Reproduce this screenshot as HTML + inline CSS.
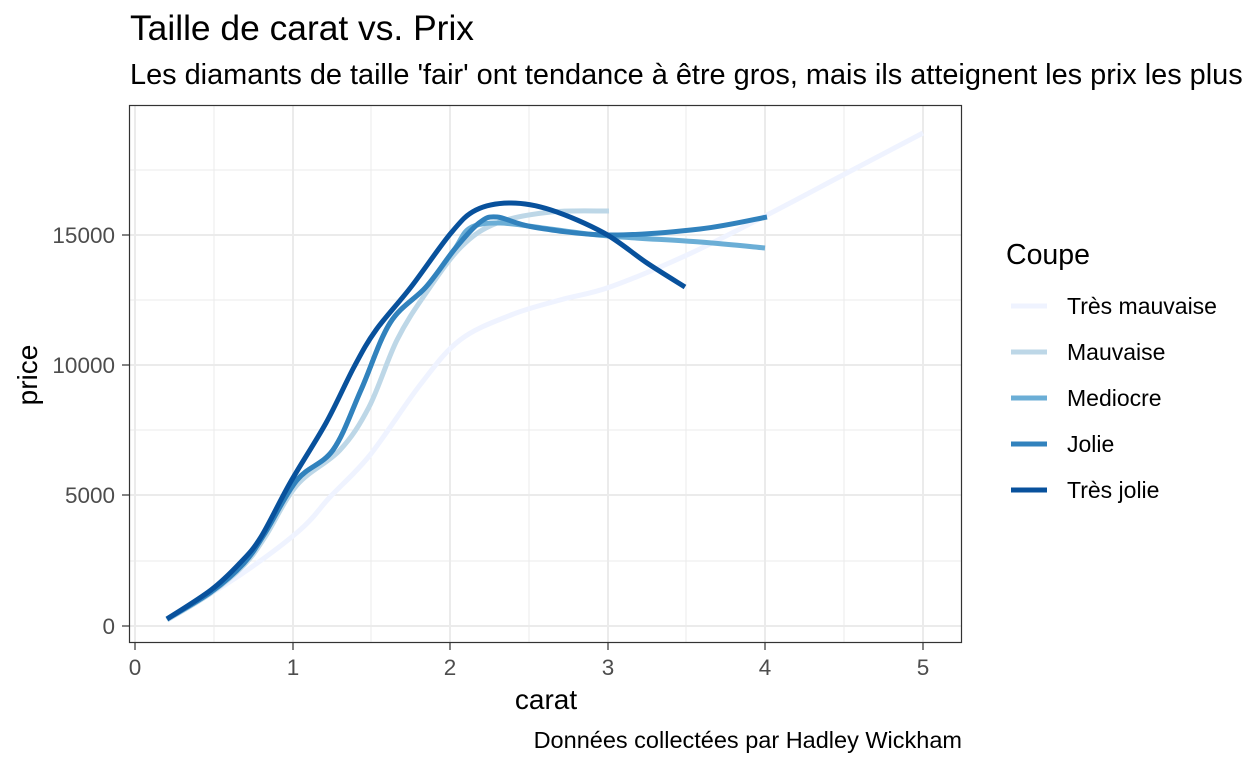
<!DOCTYPE html>
<html><head><meta charset="utf-8"><style>
html,body{margin:0;padding:0;background:#fff;}
svg{display:block;font-family:"Liberation Sans",Arial,sans-serif;}
</style></head><body>
<svg id="s" width="1248" height="768" viewBox="0 0 1248 768" xmlns="http://www.w3.org/2000/svg">
<rect width="1248" height="768" fill="#fff"/>
<text x="130" y="40" font-size="35" fill="#000" textLength="344" lengthAdjust="spacingAndGlyphs">Taille de carat vs. Prix</text>
<text x="130" y="84" font-size="28.9" fill="#000">Les diamants de taille 'fair' ont tendance à être gros, mais ils atteignent les prix les plus bas</text>
<g stroke="#ebebeb" stroke-width="1">
<line x1="129" x2="962" y1="561" y2="561"/><line x1="129" x2="962" y1="430" y2="430"/><line x1="129" x2="962" y1="300" y2="300"/><line x1="129" x2="962" y1="170" y2="170"/>
<line y1="105" y2="643" x1="214" x2="214"/><line y1="105" y2="643" x1="371" x2="371"/><line y1="105" y2="643" x1="529" x2="529"/><line y1="105" y2="643" x1="686" x2="686"/><line y1="105" y2="643" x1="844" x2="844"/>
</g>
<g stroke="#ebebeb" stroke-width="2">
<line x1="129" x2="962" y1="626" y2="626"/><line x1="129" x2="962" y1="495" y2="495"/><line x1="129" x2="962" y1="365" y2="365"/><line x1="129" x2="962" y1="235" y2="235"/>
<line y1="105" y2="643" x1="135" x2="135"/><line y1="105" y2="643" x1="293" x2="293"/><line y1="105" y2="643" x1="450" x2="450"/><line y1="105" y2="643" x1="608" x2="608"/><line y1="105" y2="643" x1="765" x2="765"/><line y1="105" y2="643" x1="923" x2="923"/>
</g>
<g id="curves" fill="none" stroke-width="5" stroke-linejoin="round"></g>
<rect x="129.5" y="105.5" width="832" height="537" fill="none" stroke="#333" stroke-width="1.2"/>
<g stroke="#333" stroke-width="1.2">
<line x1="122" x2="129" y1="626" y2="626"/><line x1="122" x2="129" y1="495" y2="495"/><line x1="122" x2="129" y1="365" y2="365"/><line x1="122" x2="129" y1="235" y2="235"/>
<line y1="643" y2="650" x1="135" x2="135"/><line y1="643" y2="650" x1="293" x2="293"/><line y1="643" y2="650" x1="450" x2="450"/><line y1="643" y2="650" x1="608" x2="608"/><line y1="643" y2="650" x1="765" x2="765"/><line y1="643" y2="650" x1="923" x2="923"/>
</g>
<g font-size="22.5" fill="#4d4d4d" text-anchor="end">
<text x="115" y="634">0</text><text x="115" y="503">5000</text><text x="115" y="373">10000</text><text x="115" y="243">15000</text>
</g>
<g font-size="22.5" fill="#4d4d4d" text-anchor="middle">
<text x="135" y="675">0</text><text x="293" y="675">1</text><text x="450" y="675">2</text><text x="608" y="675">3</text><text x="765" y="675">4</text><text x="923" y="675">5</text>
</g>
<text x="546" y="709" font-size="28" text-anchor="middle">carat</text>
<text transform="translate(37,375) rotate(-90)" font-size="28" text-anchor="middle">price</text>
<text x="962" y="748" font-size="23.5" text-anchor="end">Données collectées par Hadley Wickham</text>
<text x="1006" y="264" font-size="28.5">Coupe</text>
<g stroke-width="5">
<line x1="1011" x2="1047" y1="306" y2="306" stroke="#eff3ff"/>
<line x1="1011" x2="1047" y1="352" y2="352" stroke="#bdd7e7"/>
<line x1="1011" x2="1047" y1="398" y2="398" stroke="#6baed6"/>
<line x1="1011" x2="1047" y1="444" y2="444" stroke="#3182bd"/>
<line x1="1011" x2="1047" y1="490" y2="490" stroke="#08519c"/>
</g>
<g font-size="23" fill="#000">
<text x="1067" y="314">Très mauvaise</text>
<text x="1067" y="360">Mauvaise</text>
<text x="1067" y="406">Mediocre</text>
<text x="1067" y="452">Jolie</text>
<text x="1067" y="498">Très jolie</text>
</g>
</svg>
<script>
var series=[
["#eff3ff",[[167,620],[240,575],[300,530],[330,497],[370,455],[420,385],[460,340],[511,315],[560,300],[610,287],[687,255],[767,215],[843,175],[923,133]]],
["#bdd7e7",[[167,620],[211,593],[244,565],[265,537],[297,485],[340,450],[369,407],[397,340],[426,293],[461,247],[497,223],[551,212],[609,211]]],
["#6baed6",[[167,619],[211,592],[244,563],[265,533],[297,480],[333,450],[361,390],[390,323],[426,287],[454,250],[470,228],[500,223],[550,229],[608,236],[700,242],[765,248]]],
["#3182bd",[[167,619],[211,592],[244,563],[265,533],[297,480],[333,450],[361,390],[390,323],[426,287],[454,250],[479,223],[497,217],[533,227],[608,235],[700,229],[767,217]]],
["#08519c",[[167,619],[211,590],[240,563],[261,537],[290,483],[326,423],[354,367],[376,330],[411,287],[451,233],[476,210],[511,203],[551,210],[604,233],[647,263],[685,287]]]
];
var g=document.getElementById("curves");
series.forEach(function(s){
 var p=s[1],d="M"+p[0][0]+","+p[0][1];
 for(var i=0;i<p.length-1;i++){
  var p0=p[i-1]||p[i],p1=p[i],p2=p[i+1],p3=p[i+2]||p2;
  var c1=[p1[0]+(p2[0]-p0[0])/6,p1[1]+(p2[1]-p0[1])/6];
  var c2=[p2[0]-(p3[0]-p1[0])/6,p2[1]-(p3[1]-p1[1])/6];
  d+="C"+c1[0].toFixed(1)+","+c1[1].toFixed(1)+" "+c2[0].toFixed(1)+","+c2[1].toFixed(1)+" "+p2[0]+","+p2[1];
 }
 var e=document.createElementNS("http://www.w3.org/2000/svg","path");
 e.setAttribute("d",d);e.setAttribute("stroke",s[0]);g.appendChild(e);
});
</script>
</body></html>
